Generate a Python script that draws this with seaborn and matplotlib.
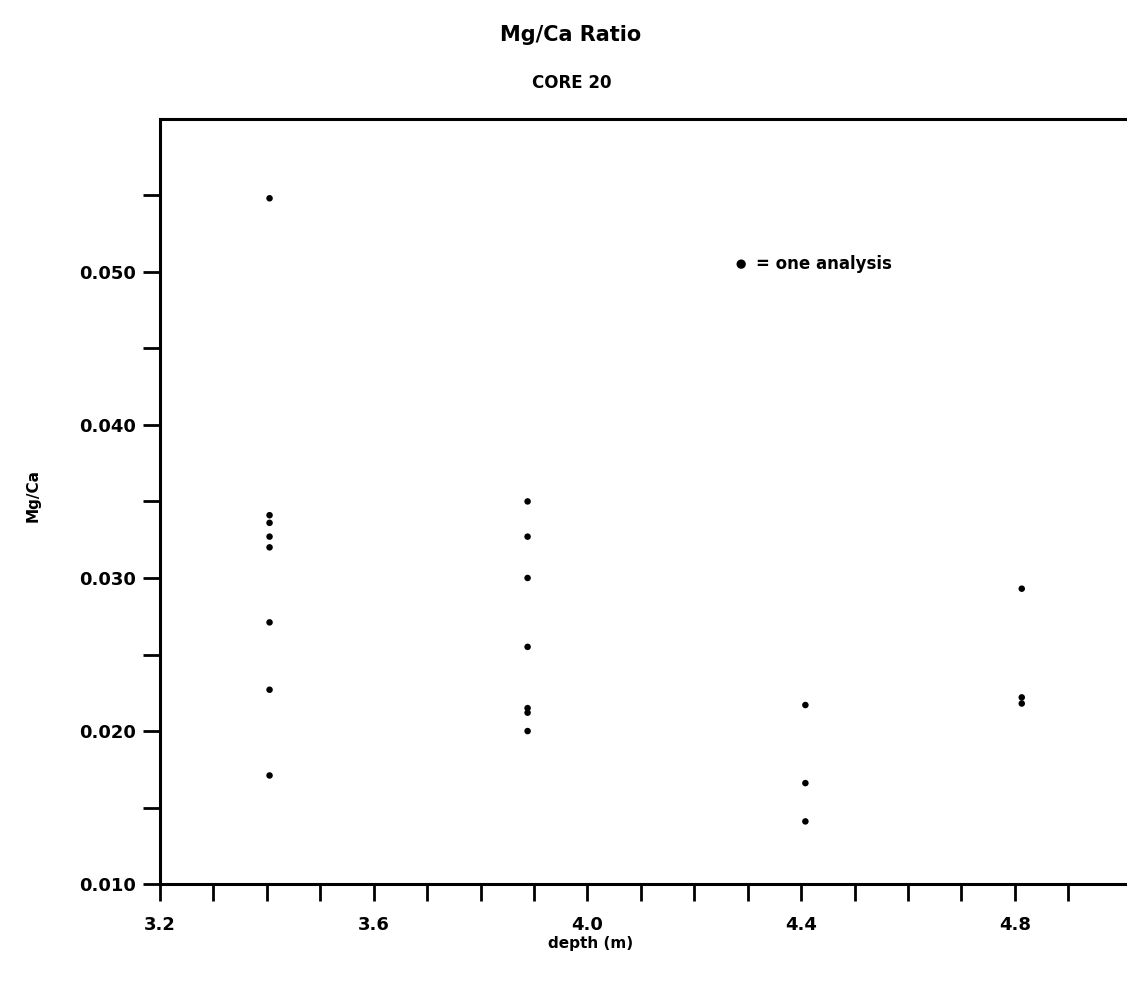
import pandas as pd
import matplotlib
matplotlib.use("Agg")
import matplotlib.pyplot as plt
import seaborn as sns
from matplotlib.ticker import FixedLocator, FuncFormatter

# Mg/Ca analyses, core 20, grouped by sample depth
depth_340 = [3.405] * 8
mgca_340 = [0.0548, 0.0341, 0.0336, 0.0327, 0.0320, 0.0271, 0.0227, 0.0171]

depth_389 = [3.888] * 7
mgca_389 = [0.0350, 0.0327, 0.0300, 0.0255, 0.0215, 0.0212, 0.0200]

depth_441 = [4.408] * 3
mgca_441 = [0.0217, 0.0166, 0.0141]

depth_481 = [4.813] * 3
mgca_481 = [0.0293, 0.0222, 0.0218]

x_ticks = [3.2, 3.6, 4.0, 4.4, 4.8]
y_ticks = [0.010, 0.020, 0.030, 0.040, 0.050]
x_minor = [3.2, 3.3, 3.4, 3.5, 3.6, 3.7, 3.8, 3.9, 4.0, 4.1, 4.2, 4.3,
           4.4, 4.5, 4.6, 4.7, 4.8, 4.9]
y_minor = [0.010, 0.015, 0.020, 0.025, 0.030, 0.035, 0.040, 0.045,
           0.050, 0.055]

df = pd.DataFrame({
    "depth": depth_340 + depth_389 + depth_441 + depth_481,
    "mgca": mgca_340 + mgca_389 + mgca_441 + mgca_481,
})

sns.set_style("white")
plt.rcParams["font.family"] = ["DejaVu Sans"]
plt.rcParams["font.weight"] = "bold"
plt.rcParams["text.color"] = "black"
plt.rcParams["axes.labelcolor"] = "black"

fig = plt.figure(figsize=(11.27, 9.89), dpi=100)
ax = fig.add_axes([0.142, 0.106, 0.858, 0.774])

sns.scatterplot(data=df, x="depth", y="mgca", ax=ax, color="black",
                s=22, edgecolor="none", legend=False)

ax.set_xlim(3.2, 5.01)
ax.set_ylim(0.010, 0.060)

# every tick drawn, only some labelled
ax.xaxis.set_major_locator(FixedLocator(x_minor))
ax.xaxis.set_major_formatter(FuncFormatter(
    lambda v, p: f"{v:.1f}" if any(abs(v - t) < 1e-6 for t in x_ticks) else ""))
ax.yaxis.set_major_locator(FixedLocator(y_minor))
ax.yaxis.set_major_formatter(FuncFormatter(
    lambda v, p: f"{v:.3f}" if any(abs(v - t) < 1e-6 for t in y_ticks) else ""))

ax.tick_params(axis="both", direction="out", length=12, width=2,
               labelsize=13, colors="black", bottom=True, left=True)
ax.tick_params(axis="x", pad=11)
ax.tick_params(axis="y", pad=5)
for lab in ax.get_xticklabels() + ax.get_yticklabels():
    lab.set_fontweight("bold")

for side in ["left", "bottom", "top"]:
    ax.spines[side].set_linewidth(2.2)
    ax.spines[side].set_color("black")
ax.spines["right"].set_visible(False)

ax.set_xlabel("depth (m)", fontsize=11, fontweight="bold")
ax.set_ylabel("Mg/Ca", fontsize=11, fontweight="bold")
ax.xaxis.set_label_coords(0.445, -0.068)
ax.yaxis.set_label_coords(-0.124, 0.508)

# key
ax.scatter([0.601], [0.810], transform=ax.transAxes, s=45, color="black",
           edgecolor="none")
ax.text(0.616, 0.810, "= one analysis", transform=ax.transAxes,
        fontsize=12, fontweight="bold", va="center", ha="left")

fig.text(0.506, 0.965, "Mg/Ca Ratio", ha="center", va="center",
         fontsize=15, fontweight="bold")
fig.text(0.507, 0.916, "CORE 20", ha="center", va="center",
         fontsize=12, fontweight="bold")

fig.savefig("out.png", dpi=100, facecolor="white")
